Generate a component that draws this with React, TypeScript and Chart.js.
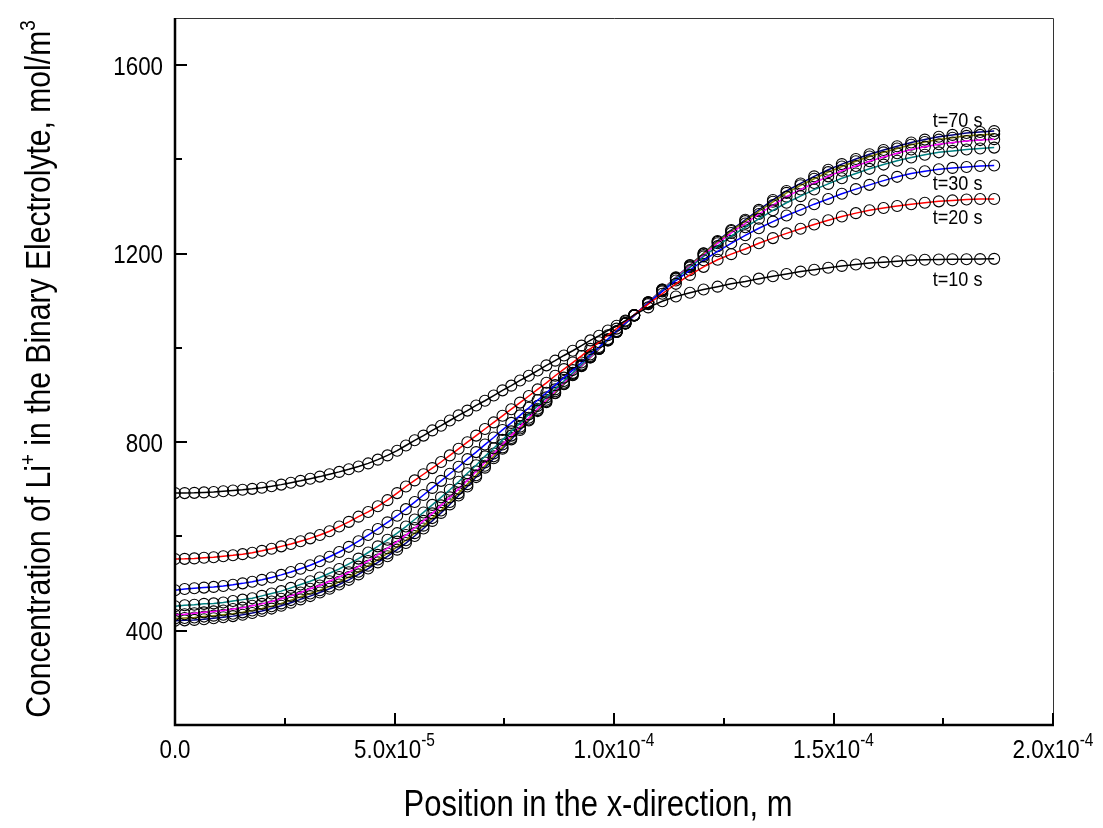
import React, { useEffect, useRef } from "react";
import { Chart, registerables } from "chart.js";

Chart.register(...registerables);

// ---------- data (x in micrometres, concentration in mol/m^3) ----------
const positionUm = [
  0, 2.2, 4.4, 6.6, 8.8, 11.0, 13.2, 15.4, 17.6, 19.8, 22.0, 24.2, 26.4, 28.6, 30.8, 33.0, 35.2, 37.4, 39.6, 41.8, 44.0, 46.2, 48.4, 50.6,
  52.6, 54.6, 56.6, 58.6, 60.6, 62.6, 64.6, 66.6, 68.6, 70.6, 72.6, 74.6, 76.6, 78.6, 80.6, 82.6, 84.6, 86.6, 88.6, 90.6, 92.6, 94.6, 96.6, 98.6, 100.6, 102.6, 104.6,
  107.8, 111.0, 114.1, 117.3, 120.4, 123.6, 126.7, 129.9, 133.0, 136.2, 139.3, 142.5, 145.6, 148.8, 151.9, 155.1, 158.2, 161.4, 164.5, 167.7, 170.8, 174.0, 177.1, 180.3, 183.4, 186.6,
];

const t10 = [
  692, 692, 692.5, 693.5, 694.5, 696, 697.5, 699, 701, 703.5, 706.5, 710, 714, 718, 722.5, 727, 732, 737, 742.5, 748.5, 755, 763, 772, 782,
  793, 804, 814, 825, 835, 846, 857, 867, 878, 888, 899, 910, 920, 931, 941, 952, 963, 973, 984, 994, 1005, 1016, 1026, 1037, 1047, 1058, 1070,
  1086, 1099, 1109, 1117, 1124, 1130, 1136, 1141, 1147, 1152, 1157, 1162, 1166, 1170, 1174, 1177, 1180, 1182, 1184, 1186, 1187, 1187.5, 1188, 1188, 1188.5, 1189,
];
const t20 = [
  552, 552.5, 553.5, 555, 556, 558, 560, 562.5, 565.5, 569.5, 574, 579, 584, 590, 596, 603, 611, 621, 631, 642, 652, 664, 677, 692,
  706, 719, 732, 745, 758, 772, 786, 800, 814, 828, 842, 856, 870, 884, 898, 912, 926, 941, 955, 969, 983, 998, 1012, 1027, 1041, 1056, 1070,
  1093, 1115, 1136, 1155, 1172, 1187, 1199, 1210, 1222, 1233, 1243, 1253, 1262, 1271, 1279, 1286, 1292, 1297, 1301, 1305, 1308, 1311, 1313, 1315, 1316, 1316,
];
const t30 = [
  486, 488.5, 490, 491.5, 493, 495, 497.5, 500.5, 504, 508, 513, 518.5, 524.5, 531.5, 539, 547.5, 557, 567, 578, 590, 603, 616, 630, 644,
  658, 673, 688, 703, 718, 733, 748, 764, 779, 795, 810, 826, 841, 857, 873, 889, 905, 921, 937, 953, 969, 986, 1002, 1019, 1036, 1053, 1069,
  1095, 1120, 1143, 1165, 1186, 1205, 1222, 1239, 1254, 1268, 1281, 1293, 1305, 1316, 1327, 1337, 1346, 1355, 1363, 1370, 1375, 1379, 1382, 1384, 1386, 1387,
];
const t40 = [
  452, 454, 455, 457, 458, 460, 463, 466, 469, 474, 479, 484, 491, 498, 505, 513, 522, 531, 542, 553, 566, 579, 593, 607,
  621, 636, 651, 667, 683, 699, 716, 734, 751, 770, 787, 805, 823, 841, 859, 877, 895, 912, 930, 947, 965, 983, 1000, 1017, 1035, 1052, 1069,
  1096, 1122, 1147, 1171, 1194, 1216, 1237, 1256, 1274, 1292, 1308, 1322, 1336, 1348, 1360, 1370, 1380, 1389, 1397, 1404, 1410, 1415, 1418, 1421, 1423, 1425,
];
const t50 = [
  434, 435, 437, 439, 441, 443, 446, 449, 453, 457, 462, 468, 474, 481, 489, 496, 505, 514, 524, 536, 548, 561, 575, 589,
  603, 618, 633, 649, 666, 683, 701, 719, 738, 757, 776, 795, 814, 833, 852, 871, 890, 908, 926, 945, 963, 981, 999, 1017, 1034, 1052, 1069,
  1097, 1123, 1148, 1173, 1197, 1222, 1244, 1264, 1284, 1303, 1321, 1336, 1350, 1364, 1376, 1386, 1396, 1405, 1413, 1421, 1427, 1432, 1436, 1439, 1441, 1443,
];
const t60 = [
  426, 427, 428, 430, 432, 434, 436, 439, 443, 447, 452, 458, 465, 472, 479, 486, 494, 504, 514, 525, 538, 551, 564, 578,
  592, 607, 623, 639, 655, 673, 692, 711, 730, 750, 770, 789, 809, 829, 848, 868, 887, 905, 924, 943, 962, 980, 998, 1016, 1034, 1052, 1069,
  1097, 1124, 1149, 1175, 1200, 1225, 1248, 1269, 1290, 1310, 1329, 1345, 1359, 1373, 1385, 1396, 1406, 1415, 1423, 1431, 1437, 1442, 1446, 1450, 1452, 1454,
];
const t70 = [
  421, 422, 423, 424.5, 426.5, 428.5, 431, 434, 437.5, 442, 447, 453, 459.5, 466.5, 473.5, 481, 489, 498, 508, 519.5, 532, 545, 558, 572,
  586, 601, 617, 633, 650, 668, 687, 706, 726, 746, 766, 786, 806, 826, 846, 866, 885, 904, 923, 942, 961, 980, 998, 1016, 1034, 1052, 1069,
  1097, 1124, 1150, 1176, 1201, 1227, 1250, 1272, 1293, 1314, 1333, 1349, 1364, 1378, 1390, 1401, 1411, 1420, 1428, 1436, 1442, 1448, 1452, 1456, 1458, 1460,
];

const seriesNames = ["t=10 s", "t=20 s", "t=30 s", "t=40 s", "t=50 s", "t=60 s", "t=70 s"];
const seriesValues = [t10, t20, t30, t40, t50, t60, t70];

const xMajorTicks = [0, 50, 100, 150, 200];
const xMinorTicks = [25, 75, 125, 175];
const xTickMantissa = ["0.0", "5.0x10", "1.0x10", "1.5x10", "2.0x10"];
const xTickExponent = ["", "-5", "-4", "-4", "-4"];
const yMajorTicks = [400, 800, 1200, 1600];
const yMinorTicks = [600, 1000, 1400];
const yTickLabels = ["400", "800", "1200", "1600"];

const curveLabels = ["t=70 s", "t=30 s", "t=20 s", "t=10 s"];

// ---------- styling ----------
const W = 1103;
const H = 828;
const FONT = '"Liberation Sans", Arial, Helvetica, sans-serif';
const SQUEEZE = 0.86;
const lineColors = ["#000000", "#ff0000", "#0000ff", "#008080", "#ff00ff", "#808000", "#000080"];
const labelAnchors = [
  { x: 172.6, y: 1484 },
  { x: 172.6, y: 1352 },
  { x: 172.6, y: 1278 },
  { x: 172.6, y: 1148 },
];

type Part = { t: string; size: number; dy: number };

function drawRich(ctx: CanvasRenderingContext2D, parts: Part[], align: "left" | "center" | "right") {
  let total = 0;
  const widths = parts.map((p) => {
    ctx.font = `${p.size}px ${FONT}`;
    const w = ctx.measureText(p.t).width;
    total += w;
    return w;
  });
  let cx = align === "left" ? 0 : align === "center" ? -total / 2 : -total;
  ctx.textAlign = "left";
  ctx.textBaseline = "alphabetic";
  parts.forEach((p, i) => {
    ctx.font = `${p.size}px ${FONT}`;
    ctx.fillText(p.t, cx, p.dy);
    cx += widths[i];
  });
}

const framePlugin = {
  id: "originFrame",
  afterDatasetsDraw(chart: any) {
    const ctx: CanvasRenderingContext2D = chart.ctx;
    const { left, right, top, bottom } = chart.chartArea;
    const xs = chart.scales.x;
    const ys = chart.scales.y;
    ctx.save();
    ctx.fillStyle = "#000";

    // thin top and right border
    ctx.lineWidth = 1;
    ctx.strokeStyle = "#333";
    ctx.beginPath();
    ctx.moveTo(left, top + 0.5);
    ctx.lineTo(right + 0.5, top + 0.5);
    ctx.lineTo(right + 0.5, bottom);
    ctx.stroke();

    // thick left and bottom axes
    ctx.strokeStyle = "#000";
    ctx.lineWidth = 2.5;
    ctx.beginPath();
    ctx.moveTo(left, top);
    ctx.lineTo(left, bottom);
    ctx.lineTo(right + 1, bottom);
    ctx.stroke();

    // ticks (inward)
    ctx.lineWidth = 2;
    ctx.beginPath();
    xMajorTicks.forEach((v) => {
      const px = Math.round(xs.getPixelForValue(v));
      ctx.moveTo(px, bottom);
      ctx.lineTo(px, bottom - 12);
    });
    xMinorTicks.forEach((v) => {
      const px = Math.round(xs.getPixelForValue(v));
      ctx.moveTo(px, bottom);
      ctx.lineTo(px, bottom - 7);
    });
    yMajorTicks.forEach((v) => {
      const py = Math.round(ys.getPixelForValue(v));
      ctx.moveTo(left, py);
      ctx.lineTo(left + 12, py);
    });
    yMinorTicks.forEach((v) => {
      const py = Math.round(ys.getPixelForValue(v));
      ctx.moveTo(left, py);
      ctx.lineTo(left + 7, py);
    });
    ctx.stroke();

    // y tick labels
    yMajorTicks.forEach((v, i) => {
      const py = ys.getPixelForValue(v);
      ctx.save();
      ctx.translate(left - 12, py + 9.5);
      ctx.scale(SQUEEZE, 1);
      drawRich(ctx, [{ t: yTickLabels[i], size: 26, dy: 0 }], "right");
      ctx.restore();
    });

    // x tick labels
    xMajorTicks.forEach((v, i) => {
      const px = xs.getPixelForValue(v);
      const parts: Part[] = [{ t: xTickMantissa[i], size: 26, dy: 0 }];
      if (xTickExponent[i]) parts.push({ t: xTickExponent[i], size: 18, dy: -12 });
      ctx.save();
      ctx.translate(px, bottom + 33);
      ctx.scale(SQUEEZE, 1);
      drawRich(ctx, parts, "center");
      ctx.restore();
    });

    // axis titles
    ctx.save();
    ctx.translate(598, 816);
    ctx.scale(SQUEEZE, 1);
    drawRich(ctx, [{ t: "Position in the x-direction, m", size: 36, dy: 0 }], "center");
    ctx.restore();

    ctx.save();
    ctx.translate(50, 369);
    ctx.rotate(-Math.PI / 2);
    ctx.scale(SQUEEZE, 1);
    drawRich(
      ctx,
      [
        { t: "Concentration of Li", size: 35, dy: 0 },
        { t: "+", size: 22, dy: -15 },
        { t: " in the Binary Electrolyte, mol/m", size: 35, dy: 0 },
        { t: "3", size: 22, dy: -15 },
      ],
      "center"
    );
    ctx.restore();

    // curve labels
    curveLabels.forEach((txt, i) => {
      const px = xs.getPixelForValue(labelAnchors[i].x);
      const py = ys.getPixelForValue(labelAnchors[i].y);
      ctx.save();
      ctx.translate(px, py + 7.5);
      ctx.scale(SQUEEZE, 1);
      drawRich(ctx, [{ t: txt, size: 21, dy: 0 }], "left");
      ctx.restore();
    });

    ctx.restore();
  },
};

export default function App() {
  const ref = useRef<HTMLCanvasElement>(null);

  useEffect(() => {
    const canvas = ref.current;
    if (!canvas) return;
    const datasets = seriesValues.map((vals, k) => ({
      label: seriesNames[k],
      data: positionUm.map((x, i) => ({ x, y: vals[i] })),
      borderColor: lineColors[k],
      borderWidth: 1.5,
      backgroundColor: "transparent",
      pointStyle: "circle",
      pointRadius: 5.5,
      pointBorderWidth: 1.1,
      pointBorderColor: "#000",
      pointBackgroundColor: "rgba(0,0,0,0)",
      tension: 0,
      fill: false,
      clip: 0,
    }));

    const chart = new Chart(canvas, {
      type: "line",
      data: { datasets },
      options: {
        responsive: false,
        animation: false,
        events: [],
        layout: { padding: { left: 0, right: 50, top: 18, bottom: 0 } },
        plugins: {
          legend: { display: false },
          tooltip: { enabled: false },
        },
        scales: {
          x: {
            type: "linear",
            min: 0,
            max: 200,
            grid: { display: false, drawTicks: false },
            border: { display: false },
            ticks: { display: false },
            afterFit: (s: any) => {
              s.height = 103;
            },
          },
          y: {
            type: "linear",
            min: 200,
            max: 1700,
            grid: { display: false, drawTicks: false },
            border: { display: false },
            ticks: { display: false },
            afterFit: (s: any) => {
              s.width = 175;
            },
          },
        },
      } as any,
      plugins: [framePlugin],
    } as any);

    return () => chart.destroy();
  }, []);

  return (
    <div style={{ position: "fixed", left: 0, top: 0, width: W, height: H, background: "#fff" }}>
      <canvas ref={ref} width={W} height={H} style={{ display: "block", width: W, height: H }} />
    </div>
  );
}
